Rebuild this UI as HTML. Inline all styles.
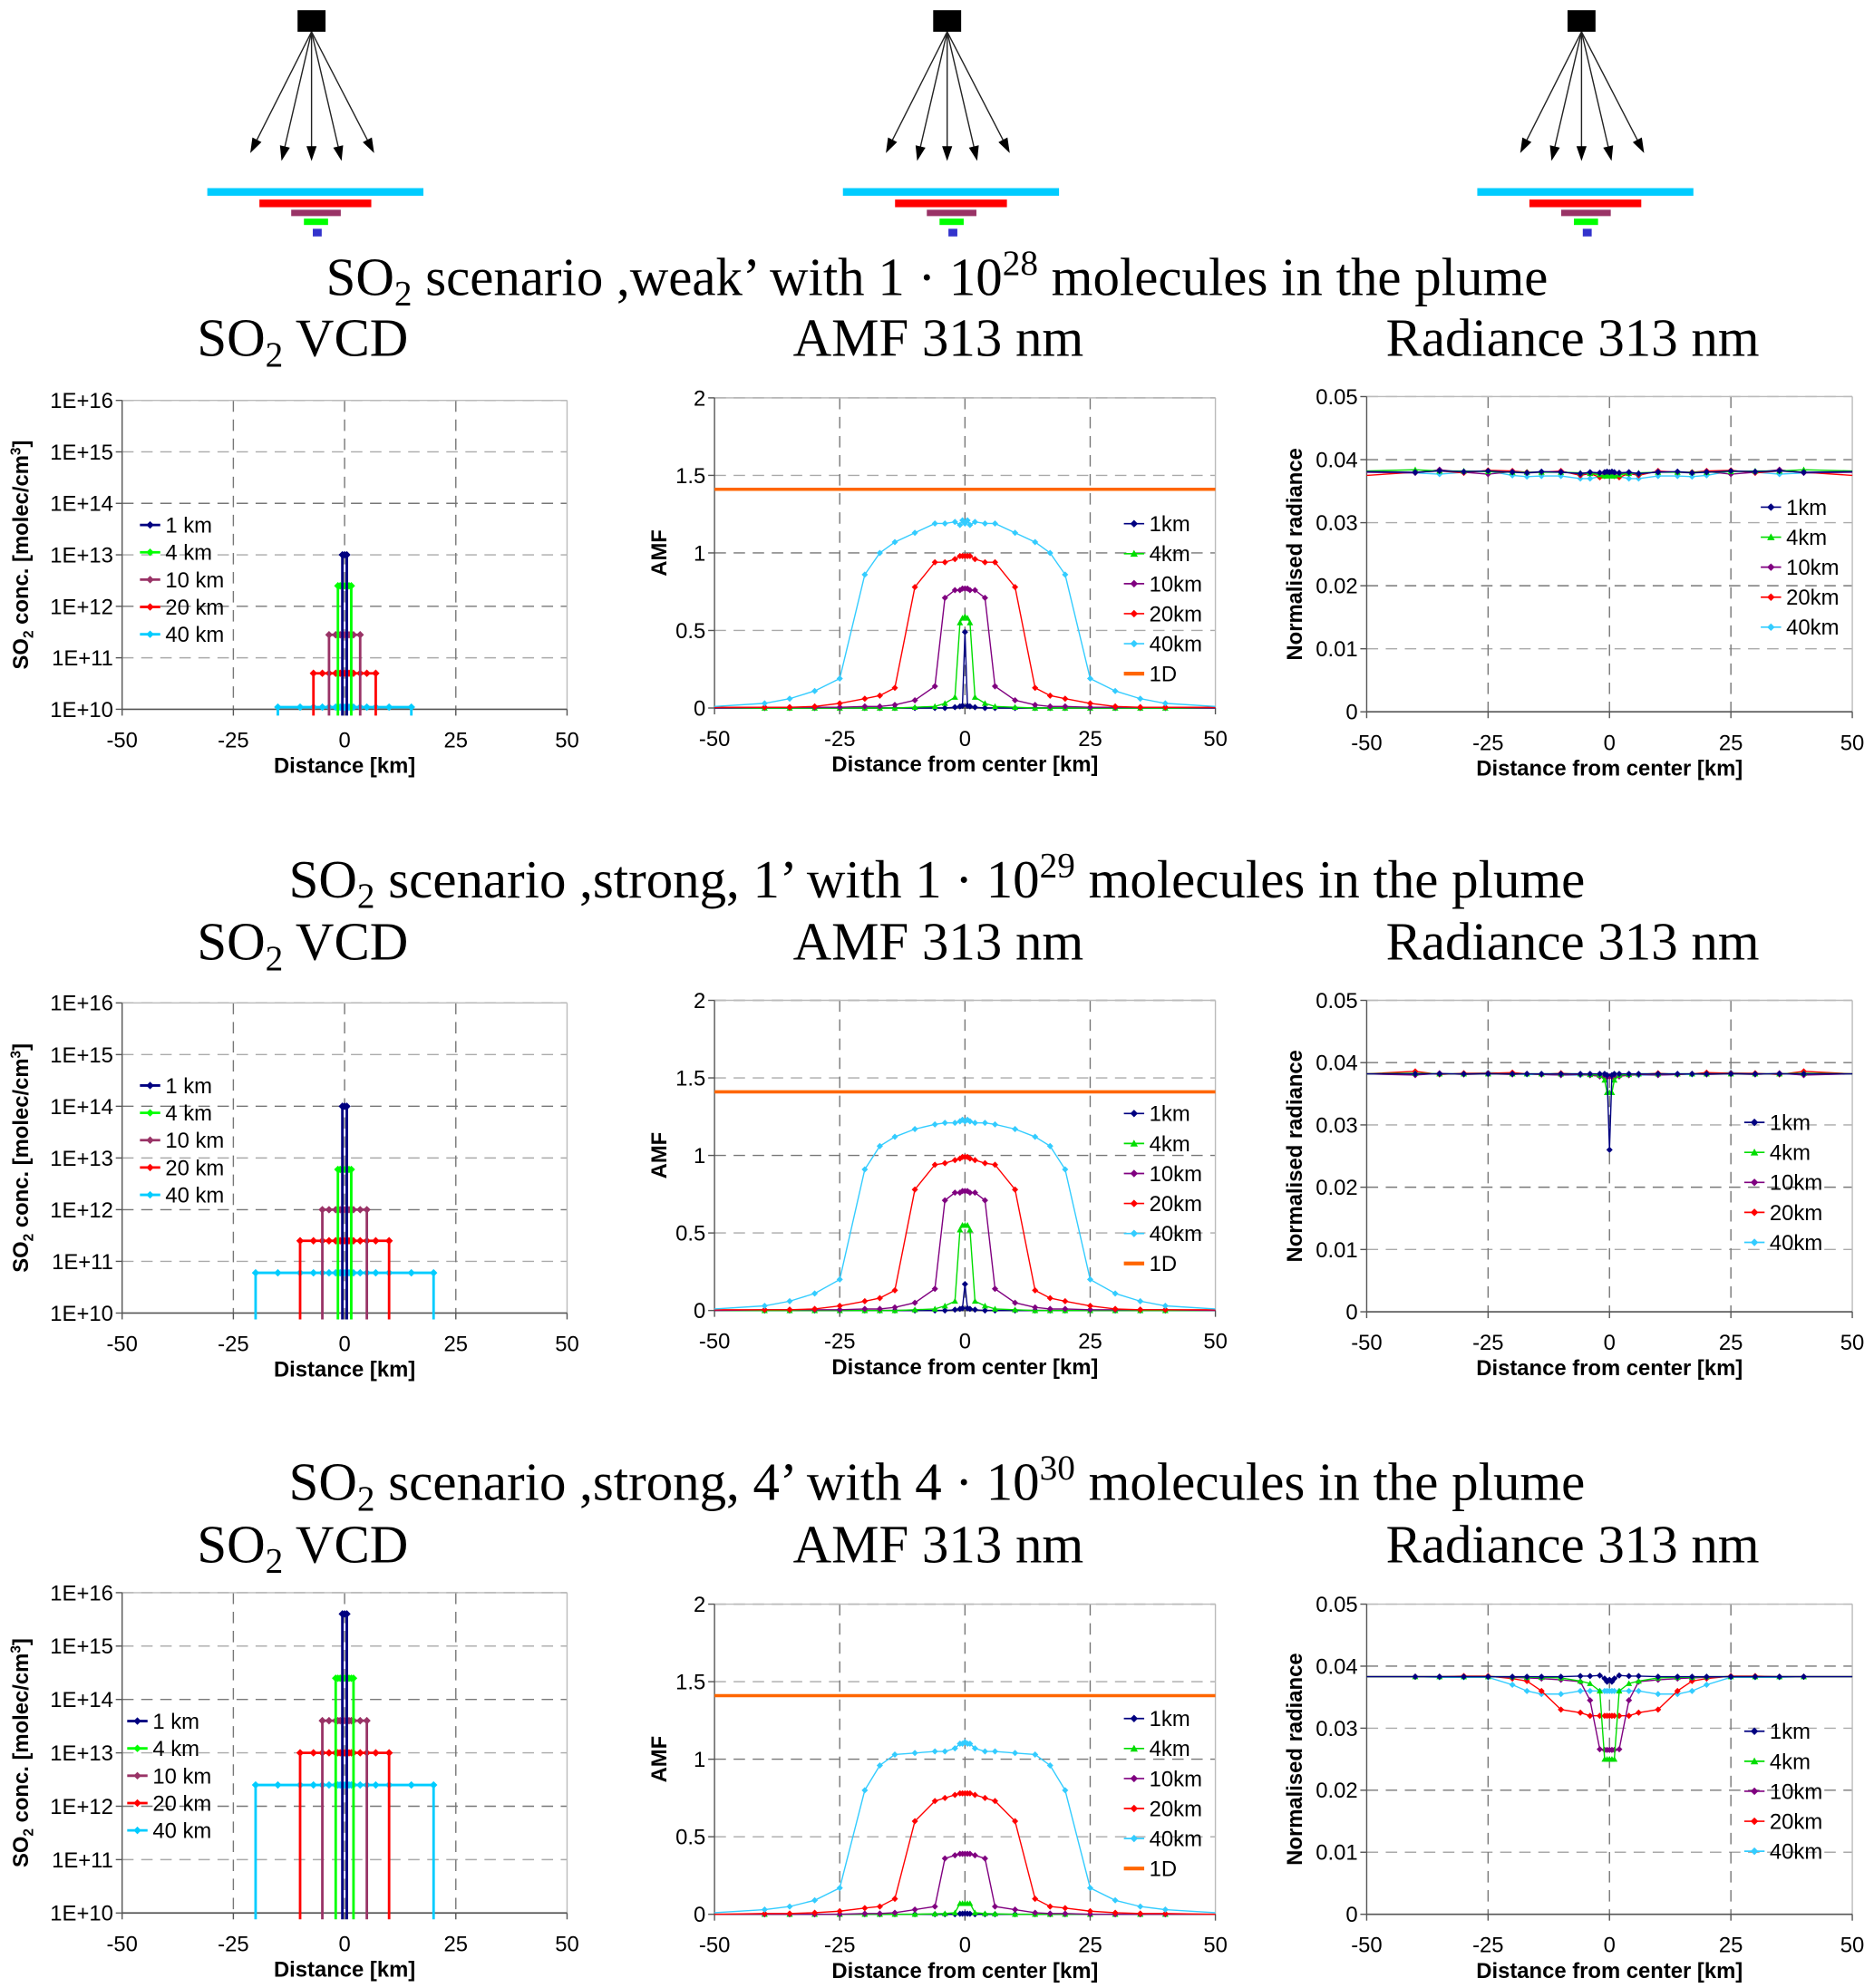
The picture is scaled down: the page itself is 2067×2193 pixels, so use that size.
<!DOCTYPE html>
<html><head><meta charset="utf-8"><style>
html,body{margin:0;padding:0;background:#fff}
svg{display:block}
text{font-family:"Liberation Sans",Arial,sans-serif}
.serif{font-family:"Liberation Serif","Times New Roman",serif}
</style></head><body>
<svg id="fig" width="2067" height="2193" viewBox="0 0 1474 1564" xmlns="http://www.w3.org/2000/svg"></svg>
<script>
// ---------- DATA ----------
const xGrid=[-50,-40,-35,-30,-25,-20,-17,-14,-10,-6,-4,-2,-1,-0.5,0,0.5,1,2,4,6,10,14,17,20,25,30,35,40,50];
const seriesNames=["1km","4km","10km","20km","40km"];
const vcdLegend=["1 km","4 km","10 km","20 km","40 km"];
const vcdTicks=["1E+10","1E+11","1E+12","1E+13","1E+14","1E+15","1E+16"];
const xTicks=[-50,-25,0,25,50];
const amfTicks=["0","0.5","1","1.5","2"];
const radTicks=["0","0.01","0.02","0.03","0.04","0.05"];
const titleExp=["28","29","30"];
const titleName=[",weak’",",strong, 1’",",strong, 4’"];
const titleMult=["1","1","4"];
// VCD: half-widths of plume [km] and peak values per row
const vcdHalf=[[0.5,1.5,3.5,7,15],[0.5,1.5,5,10,20],[0.5,2,5,10,20]];
const vcdPeak1=[1e13,1e14,4e15];
const vcdPeak4=[2.5e12,6e12,2.5e14];
const vcdPeak10=[2.8e11,1e12,4e13];
const vcdPeak20=[5e10,2.5e11,1e13];
const vcdPeak40=[1.1e10,6e10,2.5e12];
const vcdMarkX=[-20,-15,-10,-7,-5,-3.5,-2,-1.5,-1,-0.5,0,0.5,1,1.5,2,3.5,5,7,10,15,20];
// AMF row 1
const amf1_1=[0,0,0,0,0,0,0,0,0,0,0,0.005,0.01,0.015,0.49,0.015,0.01,0.005,0,0,0,0,0,0,0,0,0,0,0];
const amf1_4=[0,0,0,0,0,0,0,0,0.005,0.01,0.03,0.07,0.55,0.58,0.59,0.58,0.55,0.07,0.03,0.01,0.005,0,0,0,0,0,0,0,0];
const amf1_10=[0,0.005,0.005,0.005,0.005,0.01,0.01,0.02,0.05,0.14,0.71,0.76,0.76,0.77,0.77,0.77,0.76,0.76,0.71,0.14,0.05,0.02,0.01,0.01,0.005,0.005,0.005,0.005,0];
const amf1_20=[0.005,0.005,0.005,0.01,0.03,0.06,0.08,0.13,0.78,0.94,0.94,0.96,0.98,0.98,0.98,0.98,0.98,0.96,0.94,0.94,0.78,0.13,0.08,0.06,0.03,0.01,0.005,0.005,0.005];
const amf1_40=[0.01,0.03,0.06,0.11,0.19,0.86,1.0,1.07,1.13,1.19,1.19,1.2,1.18,1.21,1.19,1.21,1.18,1.2,1.19,1.19,1.13,1.07,1.0,0.86,0.19,0.11,0.06,0.03,0.01];
// AMF row 2
const amf2_1=[0,0,0,0,0,0,0,0,0,0,0,0.005,0.01,0.015,0.17,0.015,0.01,0.005,0,0,0,0,0,0,0,0,0,0,0];
const amf2_4=[0,0,0,0,0,0,0,0,0.005,0.01,0.03,0.06,0.52,0.55,0.55,0.55,0.52,0.06,0.03,0.01,0.005,0,0,0,0,0,0,0,0];
const amf2_10=[0,0.005,0.005,0.005,0.005,0.01,0.01,0.02,0.05,0.14,0.71,0.76,0.76,0.77,0.77,0.77,0.76,0.76,0.71,0.14,0.05,0.02,0.01,0.01,0.005,0.005,0.005,0.005,0];
const amf2_20=[0.005,0.005,0.005,0.01,0.03,0.06,0.08,0.13,0.78,0.94,0.95,0.97,0.98,0.99,0.99,0.99,0.98,0.97,0.95,0.94,0.78,0.13,0.08,0.06,0.03,0.01,0.005,0.005,0.005];
const amf2_40=[0.01,0.03,0.06,0.11,0.2,0.91,1.06,1.12,1.17,1.2,1.21,1.21,1.22,1.23,1.22,1.23,1.22,1.21,1.21,1.2,1.17,1.12,1.06,0.91,0.2,0.11,0.06,0.03,0.01];
// AMF row 3
const amf3_1=[0,0,0,0,0,0,0,0,0,0,0,0,0.003,0.004,0.005,0.004,0.003,0,0,0,0,0,0,0,0,0,0,0,0];
const amf3_4=[0,0,0,0,0,0,0,0,0,0.003,0.005,0.01,0.07,0.07,0.07,0.07,0.07,0.01,0.005,0.003,0,0,0,0,0,0,0,0,0];
const amf3_10=[0,0,0,0,0,0.005,0.005,0.01,0.03,0.05,0.36,0.38,0.39,0.39,0.39,0.39,0.39,0.38,0.36,0.05,0.03,0.01,0.005,0.005,0,0,0,0,0];
const amf3_20=[0,0.005,0.005,0.01,0.02,0.04,0.05,0.1,0.6,0.73,0.75,0.77,0.78,0.78,0.78,0.78,0.78,0.77,0.75,0.73,0.6,0.1,0.05,0.04,0.02,0.01,0.005,0.005,0];
const amf3_40=[0.01,0.03,0.05,0.09,0.17,0.8,0.96,1.03,1.04,1.05,1.05,1.07,1.1,1.1,1.11,1.1,1.1,1.07,1.05,1.05,1.04,1.03,0.96,0.8,0.17,0.09,0.05,0.03,0.01];
const amf1D=[1.41,1.41,1.41];
// Radiance row 1
const rad1_1=[0.0381,0.038,0.0382,0.0381,0.0382,0.038,0.0379,0.0381,0.038,0.0378,0.038,0.0379,0.038,0.0381,0.038,0.0381,0.038,0.0379,0.038,0.0378,0.038,0.0381,0.0379,0.038,0.0382,0.0381,0.0382,0.038,0.0381];
const rad1_4=[0.0382,0.0384,0.0382,0.0382,0.0381,0.038,0.038,0.038,0.038,0.0379,0.0378,0.0376,0.0374,0.0374,0.0375,0.0374,0.0374,0.0376,0.0378,0.0379,0.038,0.038,0.038,0.038,0.0381,0.0382,0.0382,0.0384,0.0382];
const rad1_10=[0.038,0.0379,0.0384,0.038,0.0377,0.0381,0.0379,0.038,0.0381,0.0377,0.0378,0.0379,0.0378,0.0379,0.0378,0.0379,0.0378,0.0379,0.0378,0.0377,0.0381,0.038,0.0379,0.0381,0.0377,0.038,0.0384,0.0379,0.038];
const rad1_20=[0.0375,0.038,0.0382,0.0379,0.0383,0.0382,0.038,0.038,0.0382,0.0375,0.0378,0.0372,0.0374,0.0376,0.0378,0.0376,0.0374,0.0372,0.0378,0.0375,0.0382,0.038,0.038,0.0382,0.0383,0.0379,0.0382,0.038,0.0375];
const rad1_40=[0.038,0.0379,0.0377,0.038,0.0382,0.0375,0.0373,0.0374,0.0374,0.037,0.037,0.0373,0.0375,0.0376,0.0377,0.0376,0.0375,0.0373,0.037,0.037,0.0374,0.0374,0.0373,0.0375,0.0382,0.038,0.0377,0.0379,0.038];
// Radiance row 2
const rad2_1=[0.0382,0.0382,0.0382,0.0382,0.0382,0.0382,0.0382,0.0382,0.0382,0.0382,0.0382,0.0382,0.0382,0.038,0.026,0.038,0.0382,0.0382,0.0382,0.0382,0.0382,0.0382,0.0382,0.0382,0.0382,0.0382,0.0382,0.0382,0.0382];
const rad2_4=[0.0382,0.0383,0.0382,0.0382,0.0382,0.0382,0.0382,0.0382,0.0382,0.0382,0.0381,0.038,0.0372,0.0352,0.0352,0.0352,0.0372,0.038,0.0381,0.0382,0.0382,0.0382,0.0382,0.0382,0.0382,0.0382,0.0382,0.0383,0.0382];
const rad2_10=[0.0382,0.038,0.0383,0.0381,0.0382,0.0381,0.0382,0.0381,0.038,0.0381,0.038,0.0378,0.0378,0.0378,0.0378,0.0378,0.0378,0.0378,0.038,0.0381,0.038,0.0381,0.0382,0.0381,0.0382,0.0381,0.0383,0.038,0.0382];
const rad2_20=[0.0382,0.0386,0.0381,0.0383,0.0383,0.0384,0.0382,0.0381,0.0383,0.0381,0.038,0.0378,0.0376,0.0377,0.0378,0.0377,0.0376,0.0378,0.038,0.0381,0.0383,0.0381,0.0382,0.0384,0.0383,0.0383,0.0381,0.0386,0.0382];
const rad2_40=[0.0382,0.0381,0.0382,0.0382,0.0384,0.0382,0.0381,0.0381,0.038,0.038,0.038,0.0379,0.0378,0.0378,0.0378,0.0378,0.0378,0.0379,0.038,0.038,0.038,0.0381,0.0381,0.0382,0.0384,0.0382,0.0382,0.0381,0.0382];
// Radiance row 3
const rad3_1=[0.0383,0.0383,0.0383,0.0383,0.0383,0.0383,0.0383,0.0383,0.0383,0.0384,0.0384,0.0385,0.038,0.0375,0.0378,0.0375,0.038,0.0385,0.0384,0.0384,0.0383,0.0383,0.0383,0.0383,0.0383,0.0383,0.0383,0.0383,0.0383];
const rad3_4=[0.0383,0.0383,0.0383,0.0383,0.0383,0.0383,0.0382,0.0382,0.0381,0.0376,0.0372,0.036,0.025,0.025,0.025,0.025,0.025,0.036,0.0372,0.0376,0.0381,0.0382,0.0382,0.0383,0.0383,0.0383,0.0383,0.0383,0.0383];
const rad3_10=[0.0383,0.0383,0.0383,0.0383,0.0383,0.0382,0.0381,0.038,0.0378,0.0375,0.0345,0.0266,0.0265,0.0265,0.0265,0.0265,0.0265,0.0266,0.0345,0.0375,0.0378,0.038,0.0381,0.0382,0.0383,0.0383,0.0383,0.0383,0.0383];
const rad3_20=[0.0383,0.0383,0.0383,0.0384,0.0384,0.038,0.0376,0.036,0.033,0.0325,0.032,0.032,0.032,0.032,0.032,0.032,0.032,0.032,0.032,0.0325,0.033,0.036,0.0376,0.038,0.0384,0.0384,0.0383,0.0383,0.0383];
const rad3_40=[0.0383,0.0383,0.0382,0.0382,0.0382,0.037,0.036,0.0355,0.0355,0.036,0.036,0.036,0.036,0.036,0.036,0.036,0.036,0.036,0.036,0.036,0.0355,0.0355,0.036,0.037,0.0382,0.0382,0.0382,0.0383,0.0383];

// ---------- DRAW ----------
const NS="http://www.w3.org/2000/svg";
const svg=document.getElementById('fig');
function mk(tag,attrs,parent,txt){const e=document.createElementNS(NS,tag);for(const k in attrs)e.setAttribute(k,attrs[k]);if(txt!==undefined)e.textContent=txt;(parent||svg).appendChild(e);return e;}
const vcdCol=["#000080","#00ff00","#993366","#ff0000","#00ccff"];
const lineCol=["#000080","#00dd00","#800080","#ff0000","#33ccff"];

const rows=[
 {title:232,sub:280,vcd:[315,558],amf:[313,557],rad:[312,560]},
 {title:706,sub:755,vcd:[789,1033],amf:[787,1031],rad:[787,1032]},
 {title:1180,sub:1229,vcd:[1253,1505],amf:[1262,1506],rad:[1262,1506]}
];
const VX=[96,446],AX=[562,956],RX=[1075,1457];

[245,745,1244].forEach((cx,i)=>{
 const g=mk('g',{});  
 mk('rect',{x:cx-11,y:8,width:22,height:17,fill:'#000'},g);
 [[-47,118],[-23,124],[0,124],[23,124],[48,118]].forEach(d=>{
  const ex=cx+d[0],ey=d[1];
  mk('line',{x1:cx,y1:25,x2:ex,y2:ey,stroke:'#222','stroke-width':1},g);
  const ang=Math.atan2(ey-25,ex-cx);const L=9,W=4;
  const bx=ex-L*Math.cos(ang),by=ey-L*Math.sin(ang);
  const px=-Math.sin(ang)*W,py=Math.cos(ang)*W;
  mk('polygon',{points:`${ex+L*0.3*Math.cos(ang)},${ey+L*0.3*Math.sin(ang)} ${bx+px},${by+py} ${bx-px},${by-py}`,fill:'#000'},g);
 });
 mk('rect',{x:cx-82,y:148,width:170,height:6,fill:'#00ccff'},g);
 mk('rect',{x:cx-41,y:157,width:88,height:6,fill:'#ff0000'},g);
 mk('rect',{x:cx-16,y:165,width:39,height:5,fill:'#993366'},g);
 mk('rect',{x:cx-6,y:172,width:19,height:5,fill:'#00ff00'},g);
 mk('rect',{x:cx+1,y:180,width:7,height:6,fill:'#3333cc'},g);
});

function xs(x,X){return X[0]+(x+50)/100*(X[1]-X[0]);}

function frame(g,X,Y,hTicks,hLabels,ylabel,ylabX){
 hTicks.forEach((py,i)=>{
  if(i>0) mk('line',{x1:X[0],x2:X[1],y1:py,y2:py,stroke:i%2?'#aaa':'#777','stroke-dasharray':'9,6','stroke-width':1},g);
 });
 [-25,0,25].forEach(v=>mk('line',{x1:xs(v,X),x2:xs(v,X),y1:Y[0],y2:Y[1],stroke:'#777','stroke-dasharray':'9,6','stroke-width':1},g));
 mk('line',{x1:X[0],x2:X[1],y1:Y[0],y2:Y[0],stroke:'#bbb','stroke-width':1},g);
 mk('line',{x1:X[1],x2:X[1],y1:Y[0],y2:Y[1],stroke:'#bbb','stroke-width':1},g);
 mk('line',{x1:X[0],x2:X[0],y1:Y[0],y2:Y[1],stroke:'#555','stroke-width':1},g);
 mk('line',{x1:X[0],x2:X[1],y1:Y[1],y2:Y[1],stroke:'#555','stroke-width':1.2},g);
 hTicks.forEach((py,i)=>{
  mk('line',{x1:X[0]-5,x2:X[0],y1:py,y2:py,stroke:'#555'},g);
  const t=mk('text',{x:X[0]-7,y:py+6,'text-anchor':'end','font-size':17},g,hLabels[i]);
  
 });
 xTicks.forEach(v=>{
  mk('line',{x1:xs(v,X),x2:xs(v,X),y1:Y[1],y2:Y[1]+5,stroke:'#555'},g);
  const t=mk('text',{x:xs(v,X),y:Y[1]+30,'text-anchor':'middle','font-size':17},g,String(v));
  
 });
 const cy=(Y[0]+Y[1])/2;
 const yl=mk('text',{x:ylabX,y:cy,transform:`rotate(-90 ${ylabX} ${cy})`,'text-anchor':'middle','font-size':17,'font-weight':'bold'},g);
 
 if(ylabel==='SO2'){
  mk('tspan',{},yl,'SO');mk('tspan',{'font-size':11,dy:4},yl,'2');mk('tspan',{dy:-4},yl,' conc. [molec/cm');mk('tspan',{'font-size':11,dy:-6},yl,'3');mk('tspan',{dy:6},yl,']');
 } else yl.textContent=ylabel;
}
function xlabel(g,X,Y,txt){const t=mk('text',{x:(X[0]+X[1])/2,y:Y[1]+50,'text-anchor':'middle','font-size':17,'font-weight':'bold'},g,txt);}
function marker(g,x,y,col,tri,s){
 if(tri) mk('polygon',{points:`${x},${y-s} ${x+s},${y+s*0.8} ${x-s},${y+s*0.8}`,fill:col},g);
 else mk('polygon',{points:`${x},${y-s} ${x+s},${y} ${x},${y+s} ${x-s},${y}`,fill:col},g);
}
function legend(g,x,y0,dy,labels,cols,fs,extra){
 labels.forEach((l,i)=>{
  const y=y0+i*dy;
  const lg=mk('g',{},g);
  const isD=l==='1D';
  mk('line',{x1:x,x2:x+16,y1:y,y2:y,stroke:cols[i],'stroke-width':isD?3:(extra?2:1.2)},lg);
  if(!isD) marker(lg,x+8,y,cols[i],i===1&&!extra,3);
  mk('text',{x:x+20,y:y+6,'font-size':fs},lg,l);
 });
}

const amfData=[[amf1_1,amf1_4,amf1_10,amf1_20,amf1_40],[amf2_1,amf2_4,amf2_10,amf2_20,amf2_40],[amf3_1,amf3_4,amf3_10,amf3_20,amf3_40]];
const radData=[[rad1_1,rad1_4,rad1_10,rad1_20,rad1_40],[rad2_1,rad2_4,rad2_10,rad2_20,rad2_40],[rad3_1,rad3_4,rad3_10,rad3_20,rad3_40]];
const vcdPeaks=[vcdPeak1,vcdPeak4,vcdPeak10,vcdPeak20,vcdPeak40];
const vcdLegY=[413,854,1354],vcdLegX=[110,110,100];
const amfLegY=[412,876,1352],radLegY=[399,883,1362],radLegX=[1385,1372,1372];

rows.forEach((R,r)=>{
 const t=mk('text',{x:737,y:R.title,'text-anchor':'middle','font-size':42,class:'serif'});
 
 mk('tspan',{},t,'SO');mk('tspan',{'font-size':28,dy:8},t,'2');mk('tspan',{dy:-8},t,' scenario '+titleName[r]+' with '+titleMult[r]+' · 10');mk('tspan',{'font-size':28,dy:-16},t,titleExp[r]);mk('tspan',{dy:16},t,' molecules in the plume');
 const s1=mk('text',{x:238,y:R.sub,'text-anchor':'middle','font-size':42,class:'serif'});
 
 mk('tspan',{},s1,'SO');mk('tspan',{'font-size':28,dy:8},s1,'2');mk('tspan',{dy:-8},s1,' VCD');
 const s2=mk('text',{x:738,y:R.sub,'text-anchor':'middle','font-size':42,class:'serif'},svg,'AMF 313 nm');
 
 const s3=mk('text',{x:1237,y:R.sub,'text-anchor':'middle','font-size':42,class:'serif'},svg,'Radiance 313 nm');
 

 const gv=mk('g',{});
 const VY=R.vcd;
 const ly=v=>VY[1]-(Math.log10(v)-10)/6*(VY[1]-VY[0]);
 frame(gv,VX,VY,vcdTicks.map((_,i)=>VY[1]-i/6*(VY[1]-VY[0])),vcdTicks,'SO2',22);
 xlabel(gv,VX,VY,'Distance [km]');
 for(let s=4;s>=0;s--){
  const h=vcdHalf[r][s],v=vcdPeaks[s][r];
  const x0=xs(-h,VX),x1=xs(h,VX),yy=ly(v);
  const sg=mk('g',{},gv);
  mk('path',{d:`M${x0},${VY[1]+5}L${x0},${yy}L${x1},${yy}L${x1},${VY[1]+5}`,fill:'none',stroke:vcdCol[s],'stroke-width':2},sg);
  vcdMarkX.filter(x=>Math.abs(x)<=h).forEach(x=>marker(sg,xs(x,VX),yy,vcdCol[s],false,3));
 }
 legend(gv,vcdLegX[r],vcdLegY[r],21.5,vcdLegend,vcdCol,17,true);

 const ga=mk('g',{});
 const AY=R.amf; const ay=v=>AY[1]-v/2*(AY[1]-AY[0]);
 frame(ga,AX,AY,amfTicks.map((_,i)=>AY[1]-i/4*(AY[1]-AY[0])),amfTicks,'AMF',524);
 xlabel(ga,AX,AY,'Distance from center [km]');
 const d1=mk('line',{x1:AX[0],x2:AX[1],y1:ay(amf1D[r]),y2:ay(amf1D[r]),stroke:'#ff6600','stroke-width':2.5},ga);
 
 [0,1,2,3,4].forEach(s=>{
  const arr=amfData[r][s];
  const sg=mk('g',{},ga);
  mk('polyline',{points:arr.map((v,i)=>xs(xGrid[i],AX)+','+ay(v)).join(' '),fill:'none',stroke:lineCol[s],'stroke-width':1},sg);
  arr.forEach((v,i)=>{if(Math.abs(xGrid[i])<50)marker(sg,xs(xGrid[i],AX),ay(v),lineCol[s],s===1,2.5);});
 });
 legend(ga,884,amfLegY[r],23.6,["1km","4km","10km","20km","40km","1D"],lineCol.concat(['#ff6600']),17,false);

 const gr=mk('g',{});
 const RY=R.rad; const ry=v=>RY[1]-v/0.05*(RY[1]-RY[0]);
 frame(gr,RX,RY,radTicks.map((_,i)=>RY[1]-i/5*(RY[1]-RY[0])),radTicks,'Normalised radiance',1024);
 xlabel(gr,RX,RY,'Distance from center [km]');
 [4,3,2,1,0].forEach(s=>{
  const arr=radData[r][s];
  const sg=mk('g',{},gr);
  mk('polyline',{points:arr.map((v,i)=>xs(xGrid[i],RX)+','+ry(v)).join(' '),fill:'none',stroke:lineCol[s],'stroke-width':1},sg);
  arr.forEach((v,i)=>{if(Math.abs(xGrid[i])<50)marker(sg,xs(xGrid[i],RX),ry(v),lineCol[s],s===1,2.5);});
 });
 legend(gr,radLegX[r],radLegY[r],23.6,seriesNames,lineCol,17,false);
});
</script>
</body></html>
